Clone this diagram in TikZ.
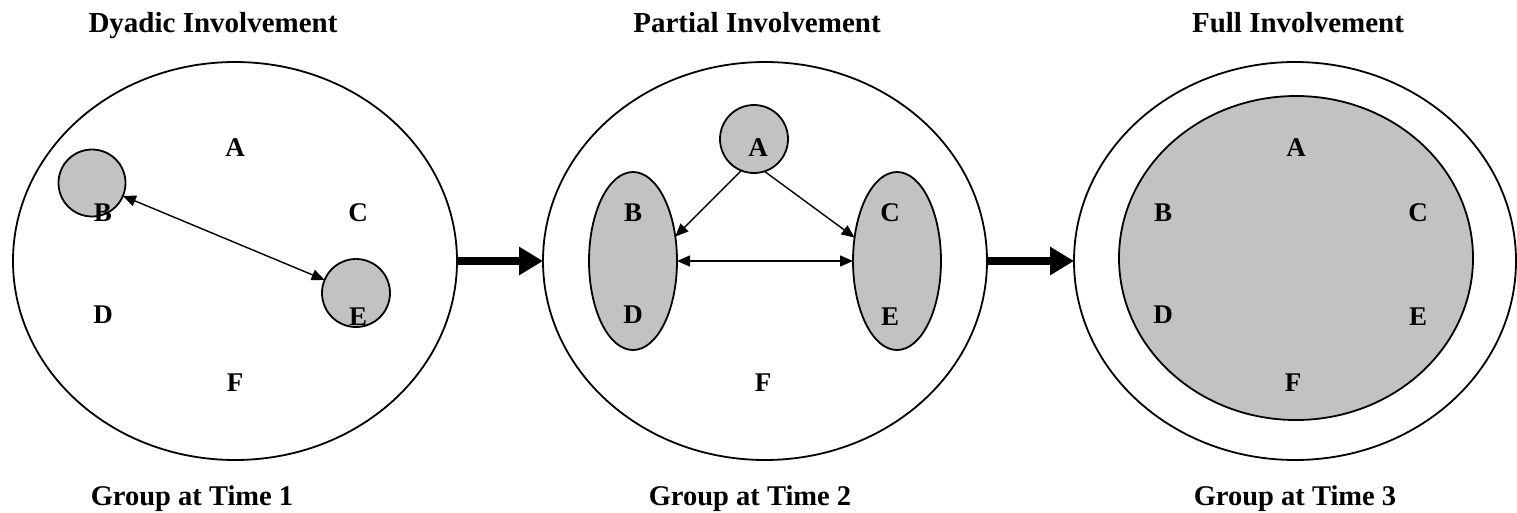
\documentclass[tikz,border=0pt]{standalone}
\usepackage{fontspec}
\setmainfont{Liberation Serif}
\usetikzlibrary{shapes.geometric,arrows.meta}
\definecolor{shade}{RGB}{194,194,194}
\tikzset{
  group/.style={ellipse, draw, line width=1.8pt, inner sep=0pt, outer sep=0pt},
  member/.style={group, fill=shade},
  letter/.style={font=\fontsize{27}{29}\selectfont\bfseries, inner sep=0pt},
  heading/.style={font=\fontsize{29}{32}\selectfont\bfseries, inner sep=0pt, anchor=base},
  caption/.style={font=\fontsize{28.5}{31}\selectfont\bfseries, inner sep=0pt, anchor=base},
  link/.style={line width=1.4pt, -{Triangle[length=13pt,width=11pt]}},
  duallink/.style={line width=1.4pt, {Triangle[length=13pt,width=11pt]}-{Triangle[length=13pt,width=11pt]}},
  stage/.style={line width=8.5pt, -{Triangle[length=24pt,width=27pt]}, shorten <=0.9pt}
}
\begin{document}
\begin{tikzpicture}[x=1pt,y=-1pt]
\useasboundingbox (0,0) rectangle (1517,512);

% headings and captions
\node[heading] (h1) at (213,32) {Dyadic Involvement};
\node[heading] (h2) at (757,32) {Partial Involvement};
\node[heading] (h3) at (1298,32) {Full Involvement};
\node[caption] (t1) at (192,505) {Group at Time 1};
\node[caption] (t2) at (750,505) {Group at Time 2};
\node[caption] (t3) at (1295,505) {Group at Time 3};

% group outlines
\node[group, minimum width=444pt, minimum height=398pt] (g1) at (235,261) {};
\node[group, minimum width=444pt, minimum height=398pt] (g2) at (765,261) {};
\node[group, minimum width=442pt, minimum height=398pt] (g3) at (1295,261) {};

% time 1: a single dyad
\node[member, circle, minimum size=67pt] (c1B) at (92,183) {};
\node[member, circle, minimum size=68pt] (c1E) at (356,293) {};
\node[letter] (p1A) at (235,148) {A};
\node[letter] (p1B) at (103,213) {B};
\node[letter] (p1C) at (358,213) {C};
\node[letter] (p1D) at (103,315) {D};
\node[letter] (p1E) at (358,317) {E};
\node[letter] (p1F) at (235,383) {F};
\draw[duallink] (c1B) -- (c1E);

% time 2: subgroups
\node[member, circle, minimum size=68pt] (c2A) at (754,139) {};
\node[member, minimum width=88pt, minimum height=178pt] (e2BD) at (633,261) {};
\node[member, minimum width=88pt, minimum height=178pt] (e2CE) at (897,261) {};
\node[letter] (p2A) at (758,148) {A};
\node[letter] (p2B) at (633,213) {B};
\node[letter] (p2C) at (890,213) {C};
\node[letter] (p2D) at (633,315) {D};
\node[letter] (p2E) at (890,317) {E};
\node[letter] (p2F) at (763,383) {F};
\draw[link] (c2A.248) -- (e2BD.30);
\draw[link] (c2A.288) -- (e2CE.151);
\draw[duallink] (e2BD.east) -- (e2CE.west);

% time 3: whole group
\node[member, minimum width=354pt, minimum height=324pt] (e3all) at (1296,258) {};
\node[letter] (p3A) at (1296,148) {A};
\node[letter] (p3B) at (1163,213) {B};
\node[letter] (p3C) at (1418,213) {C};
\node[letter] (p3D) at (1163,315) {D};
\node[letter] (p3E) at (1418,317) {E};
\node[letter] (p3F) at (1293,383) {F};

% progression between stages
\draw[stage] (g1.east) -- (g2.west);
\draw[stage] (g2.east) -- (g3.west);
\end{tikzpicture}
\end{document}
